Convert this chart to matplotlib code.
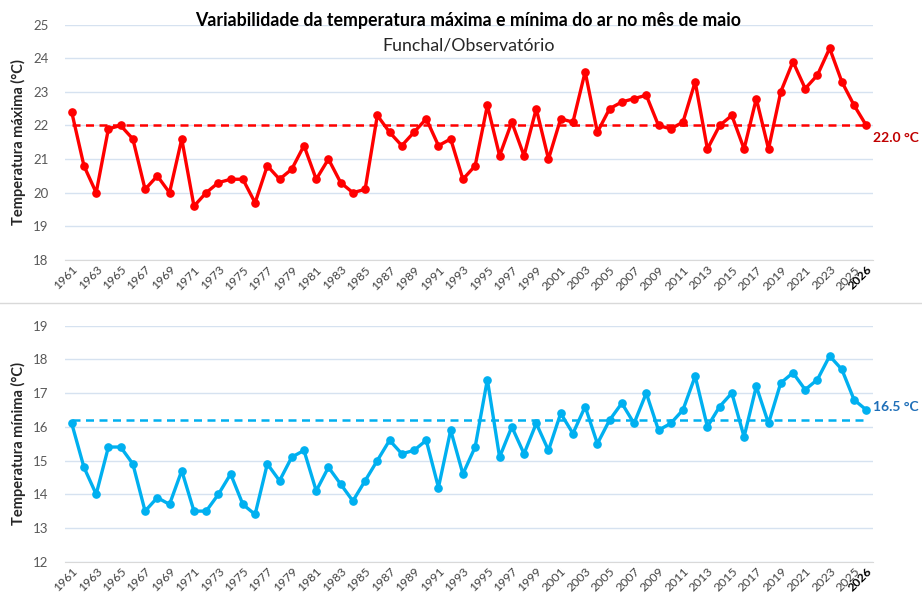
"""
Variabilidade da temperatura máxima e mínima do ar no mês de maio
Funchal/Observatório, 1961-2026
"""

import matplotlib
matplotlib.use("Agg")
import matplotlib.pyplot as plt
from matplotlib.lines import Line2D

plt.rcParams['font.family'] = ['Lato', 'DejaVu Sans']

# Data
years = list(range(1961, 2027))

tmax = [22.4, 20.8, 20.0, 21.9, 22.0, 21.6, 20.1, 20.5, 20.0, 21.6,
        19.6, 20.0, 20.3, 20.4, 20.4, 19.7, 20.8, 20.4, 20.7, 21.4,
        20.4, 21.0, 20.3, 20.0, 20.1, 22.3, 21.8, 21.4, 21.8, 22.2,
        21.4, 21.6, 20.4, 20.8, 22.6, 21.1, 22.1, 21.1, 22.5, 21.0,
        22.2, 22.1, 23.6, 21.8, 22.5, 22.7, 22.8, 22.9, 22.0, 21.9,
        22.1, 23.3, 21.3, 22.0, 22.3, 21.3, 22.8, 21.3, 23.0, 23.9,
        23.1, 23.5, 24.3, 23.3, 22.6, 22.0]

tmin = [16.1, 14.8, 14.0, 15.4, 15.4, 14.9, 13.5, 13.9, 13.7, 14.7,
        13.5, 13.5, 14.0, 14.6, 13.7, 13.4, 14.9, 14.4, 15.1, 15.3,
        14.1, 14.8, 14.3, 13.8, 14.4, 15.0, 15.6, 15.2, 15.3, 15.6,
        14.2, 15.9, 14.6, 15.4, 17.4, 15.1, 16.0, 15.2, 16.1, 15.3,
        16.4, 15.8, 16.6, 15.5, 16.2, 16.7, 16.1, 17.0, 15.9, 16.1,
        16.5, 17.5, 16.0, 16.6, 17.0, 15.7, 17.2, 16.1, 17.3, 17.6,
        17.1, 17.4, 18.1, 17.7, 16.8, 16.5]

ref_max = 22.0
ref_min = 16.2

tick_years = list(range(1961, 2026, 2)) + [2026]

fig = plt.figure(figsize=(9.22, 5.98), dpi=100)

ax_top = fig.add_axes([0.0705, 0.5654, 0.8764, 0.3933])
ax_bot = fig.add_axes([0.0705, 0.0607, 0.8764, 0.3948])

grid_color = '#D6E2F0'
label_color = '#595959'


def style_axis(ax, values, ref, color, ylim, ylabel, ref_label, label_color_ref, label_dy):
    x = list(range(len(years)))
    ax.plot(x, [ref] * len(x), color=color, lw=1.8, ls=(0, (3.2, 2.2)), zorder=2)
    ax.plot(x, values, color=color, lw=2.4, marker='o', markersize=5.2, zorder=3)
    ax.set_xlim(-0.55, len(x) - 0.45)
    ax.set_ylim(*ylim)
    ax.set_yticks(range(ylim[0], ylim[1] + 1))
    ax.grid(axis='y', color=grid_color, lw=1.0, zorder=0)
    for s in ['top', 'right', 'left']:
        ax.spines[s].set_visible(False)
    ax.spines['bottom'].set_color('#D9D9D9')
    ax.tick_params(axis='both', length=0, colors=label_color, labelsize=9.5)
    ax.tick_params(axis='y', pad=12)
    ax.tick_params(axis='x', pad=3)
    ax.set_xticks([years.index(y) for y in tick_years])
    ax.set_xticklabels([str(y) for y in tick_years], rotation=45, ha='right',
                       rotation_mode='anchor', fontsize=8.8, color='#404040')
    ax.get_xticklabels()[-1].set_fontweight('bold')
    ax.get_xticklabels()[-1].set_color('#000000')
    ax.set_ylabel(ylabel, fontsize=10.5, fontweight='bold', color='#262626', labelpad=5)
    ax.annotate(ref_label, xy=(len(x) - 1, values[-1]), xytext=(5, label_dy),
                textcoords='offset points', fontsize=10, fontweight='bold',
                color=label_color_ref, va='center', ha='left', annotation_clip=False)


style_axis(ax_top, tmax, ref_max, '#FF0000', (18, 25), 'Temperatura máxima (°C)',
           '22.0 °C', '#C00000', -9)
style_axis(ax_bot, tmin, ref_min, '#00B0F0', (12, 19), 'Temperatura mínima (°C)',
           '16.5 °C', '#1F6FB8', 2)

fig.text(0.508, 0.966, 'Variabilidade da temperatura máxima e mínima do ar no mês de maio',
         ha='center', va='center', fontsize=12.8, fontweight='bold', color='#000000')
fig.text(0.508, 0.924, 'Funchal/Observatório', ha='center', va='center',
         fontsize=12.8, color='#262626')

# thin separator between the two charts
fig.add_artist(Line2D([0, 1], [0.4933, 0.4933], transform=fig.transFigure,
                      color='#D9D9D9', lw=1.0))

plt.savefig('out.png', dpi=100)
